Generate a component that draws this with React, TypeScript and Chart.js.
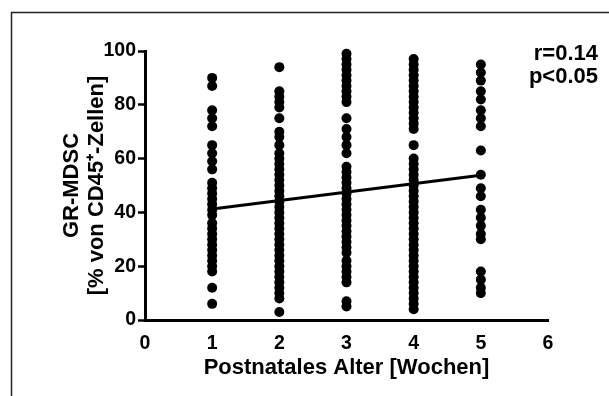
import React, { useEffect, useRef } from "react";
import { Chart, registerables } from "chart.js";

Chart.register(...registerables);

// ---- data ----
const xTickValues = [0, 1, 2, 3, 4, 5, 6];
const yTickValues = [0, 20, 40, 60, 80, 100];
const weeks = [1, 2, 3, 4, 5];
const week1 = [90, 87, 78, 75, 72, 65, 62, 59, 56, 51, 49, 47, 45, 43, 41, 39, 36, 34, 32, 30, 28, 26, 24, 22, 20, 18, 12, 6];
const week2 = [94, 85, 83, 81, 79, 75, 70, 68, 65, 62, 60, 58, 56, 54, 52, 50, 48, 46, 44, 42, 40, 38, 36, 34, 32, 30, 28, 26, 24, 22, 20, 18, 16, 14, 12, 10, 8, 3];
const week3 = [99, 97, 95, 93, 91, 89, 87, 85, 83, 81, 75, 71, 68, 65, 62, 57, 55, 53, 51, 49, 47, 45, 43, 41, 39, 37, 35, 33, 31, 29, 27, 25, 22, 20, 18, 16, 14, 7, 5];
const week4 = [97, 95, 93, 91, 89, 87, 85, 83, 81, 79, 77, 75, 73, 71, 65, 60, 58, 56, 54, 52, 50, 48, 46, 44, 42, 40, 38, 36, 34, 32, 30, 28, 26, 24, 22, 20, 18, 16, 14, 12, 10, 8, 6, 4];
const week5 = [95, 92, 89, 85, 82, 78, 75, 72, 63, 54, 49, 46, 41, 38, 35, 32, 30, 18, 15, 12, 10];
const trendX = [1, 5];
const trendY = [41.3, 53.8];
const statLines = ["r=0.14", "p<0.05"];
const xTitle = "Postnatales Alter [Wochen]";
const yTitle = ["GR-MDSC", "[% von CD45\u207A-Zellen]"];

const FONT = "'Liberation Sans', Arial, sans-serif";

export default function App() {
  const ref = useRef<HTMLCanvasElement>(null);

  useEffect(() => {
    const columns = [week1, week2, week3, week4, week5];
    const points: { x: number; y: number }[] = [];
    columns.forEach((col, i) => col.forEach((v) => points.push({ x: weeks[i], y: v })));
    const trend = trendX.map((x, i) => ({ x, y: trendY[i] }));

    const framePlugin = {
      id: "frame",
      beforeDraw(chart: any) {
        const ctx = chart.ctx;
        ctx.save();
        ctx.fillStyle = "#fff";
        ctx.fillRect(0, 0, chart.width, chart.height);
        ctx.strokeStyle = "#222";
        ctx.lineWidth = 1.5;
        ctx.beginPath();
        ctx.moveTo(11.5, chart.height);
        ctx.lineTo(11.5, 12.5);
        ctx.lineTo(chart.width, 12.5);
        ctx.stroke();
        ctx.restore();
      },
    };

    const statPlugin = {
      id: "stats",
      afterDraw(chart: any) {
        const ctx = chart.ctx;
        ctx.save();
        ctx.fillStyle = "#000";
        ctx.font = `bold 22px ${FONT}`;
        ctx.textAlign = "right";
        ctx.textBaseline = "middle";
        ctx.fillText(statLines[0], 598, 54);
        ctx.fillText(statLines[1], 598, 77);
        ctx.restore();
      },
    };

    const chart = new Chart(ref.current!, {
      type: "scatter",
      data: {
        datasets: [
          {
            data: points,
            pointRadius: 5,
            pointHoverRadius: 5,
            backgroundColor: "#000",
            borderColor: "#000",
            borderWidth: 0,
            clip: false,
          } as any,
          {
            type: "line",
            data: trend,
            borderColor: "#000",
            borderWidth: 3,
            pointRadius: 0,
            showLine: true,
            fill: false,
            clip: false,
          } as any,
        ],
      },
      options: {
        responsive: false,
        animation: false,
        devicePixelRatio: 1,
        layout: { padding: { top: 51, right: 61, bottom: 0, left: 0 } },
        plugins: { legend: { display: false }, tooltip: { enabled: false } },
        scales: {
          x: {
            type: "linear",
            min: 0,
            max: 6,
            afterBuildTicks: (s: any) => {
              s.ticks = xTickValues.map((v) => ({ value: v }));
            },
            ticks: {
              color: "#000",
              font: { family: FONT, size: 19.5, weight: "bold" },
              padding: 12,
              maxRotation: 0,
            },
            grid: { drawOnChartArea: false, drawTicks: false, display: true },
            border: { color: "#000", width: 3 },
            title: {
              display: true,
              text: xTitle,
              color: "#000",
              font: { family: FONT, size: 22, weight: "bold", lineHeight: 1.2 },
              padding: { top: 0, bottom: 14.8 },
            },
            afterFit: (s: any) => {
              s.height = 76;
            },
          },
          y: {
            type: "linear",
            min: 0,
            max: 100,
            afterBuildTicks: (s: any) => {
              s.ticks = yTickValues.map((v) => ({ value: v }));
            },
            ticks: {
              color: "#000",
              font: { family: FONT, size: 19.5, weight: "bold" },
              padding: 2,
            },
            grid: {
              drawOnChartArea: false,
              drawTicks: true,
              tickLength: 7,
              tickWidth: 2.5,
              tickColor: "#000",
            },
            border: { color: "#000", width: 3 },
            title: {
              display: true,
              text: yTitle,
              color: "#000",
              font: { family: FONT, size: 22, weight: "bold", lineHeight: 1.15 },
              padding: { top: 59.3, bottom: 0 },
            },
            afterFit: (s: any) => {
              s.width = 145;
            },
          },
        },
      } as any,
      plugins: [framePlugin, statPlugin],
    });
    return () => chart.destroy();
  }, []);

  return (
    <div style={{ position: "fixed", left: 0, top: 0, width: 609, height: 396, background: "#fff" }}>
      <canvas ref={ref} width={609} height={396} style={{ display: "block" }} />
    </div>
  );
}
